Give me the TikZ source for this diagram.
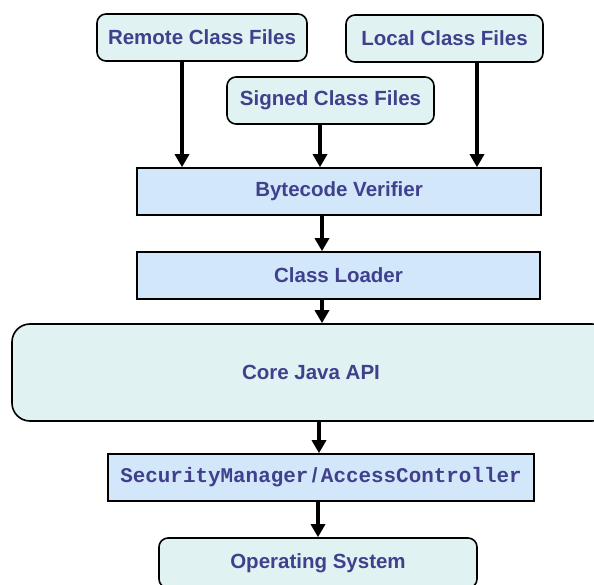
\documentclass[tikz,border=0pt]{standalone}
\usepackage{fontspec}
\setmainfont{Liberation Sans}
\newfontfamily\monob{Liberation Mono}[BoldFont={* Bold}]
\usetikzlibrary{arrows.meta}
\definecolor{txtblue}{RGB}{64,64,140}
\definecolor{cyanfill}{RGB}{225,242,243}
\definecolor{bluefill}{RGB}{211,231,251}
\tikzset{
  base/.style={draw=black, line width=1.6pt, text=txtblue, inner sep=0pt,
    font=\fontsize{20.5}{24}\selectfont\bfseries, anchor=center},
  roundbox/.style={base, fill=cyanfill, rounded corners=9pt},
  bigroundbox/.style={base, fill=cyanfill, rounded corners=18pt},
  rectbox/.style={base, fill=bluefill},
  arr/.style={line width=3.5pt, -{Triangle[length=13pt,width=14pt]}}
}
\begin{document}
\begin{tikzpicture}[x=1pt,y=-1pt]
\useasboundingbox (0,0) rectangle (594,585);
\clip (0,0) rectangle (594,585);
\node[roundbox, minimum width=210pt, minimum height=47pt] (remote) at (202,37.5) {Remote Class Files};
\node[roundbox, minimum width=197pt, minimum height=47pt] (local) at (444.5,38.5) {Local Class Files};
\node[roundbox, minimum width=207pt, minimum height=47pt] (signed) at (330.5,100.5) {Signed Class Files};
\node[rectbox, minimum width=404pt, minimum height=47pt] (bv) at (339,191.5) {Bytecode Verifier};
\node[rectbox, minimum width=403pt, minimum height=47pt] (cl) at (338.5,275.5) {Class Loader};
\node[bigroundbox, minimum width=598pt, minimum height=97pt] (core) at (311,372.5) {Core Java API};
\node[rectbox, minimum width=426pt, minimum height=47pt] (sm) at (321,477.5)
  {{\monob\bfseries\fontsize{20.9}{24}\selectfont SecurityManager}\,/\,{\monob\bfseries\fontsize{20.9}{24}\selectfont AccessController}};
\node[roundbox, minimum width=318pt, minimum height=50pt] (os) at (318,563) {Operating System};
\draw[arr] ([xshift=-20pt]remote.south) -- ([xshift=-20pt]remote.south |- bv.north);
\draw[arr] ([xshift=-10.5pt]signed.south) -- ([xshift=-10.5pt]signed.south |- bv.north);
\draw[arr] ([xshift=32.5pt]local.south) -- ([xshift=32.5pt]local.south |- bv.north);
\draw[arr] ([xshift=-17pt]bv.south) -- ([xshift=-17pt]bv.south |- cl.north);
\draw[arr] ([xshift=-16.5pt]cl.south) -- ([xshift=-16.5pt]cl.south |- core.north);
\draw[arr] ([xshift=8pt]core.south) -- ([xshift=8pt]core.south |- sm.north);
\draw[arr] ([xshift=-3pt]sm.south) -- ([xshift=-3pt]sm.south |- os.north);
\end{tikzpicture}
\end{document}
